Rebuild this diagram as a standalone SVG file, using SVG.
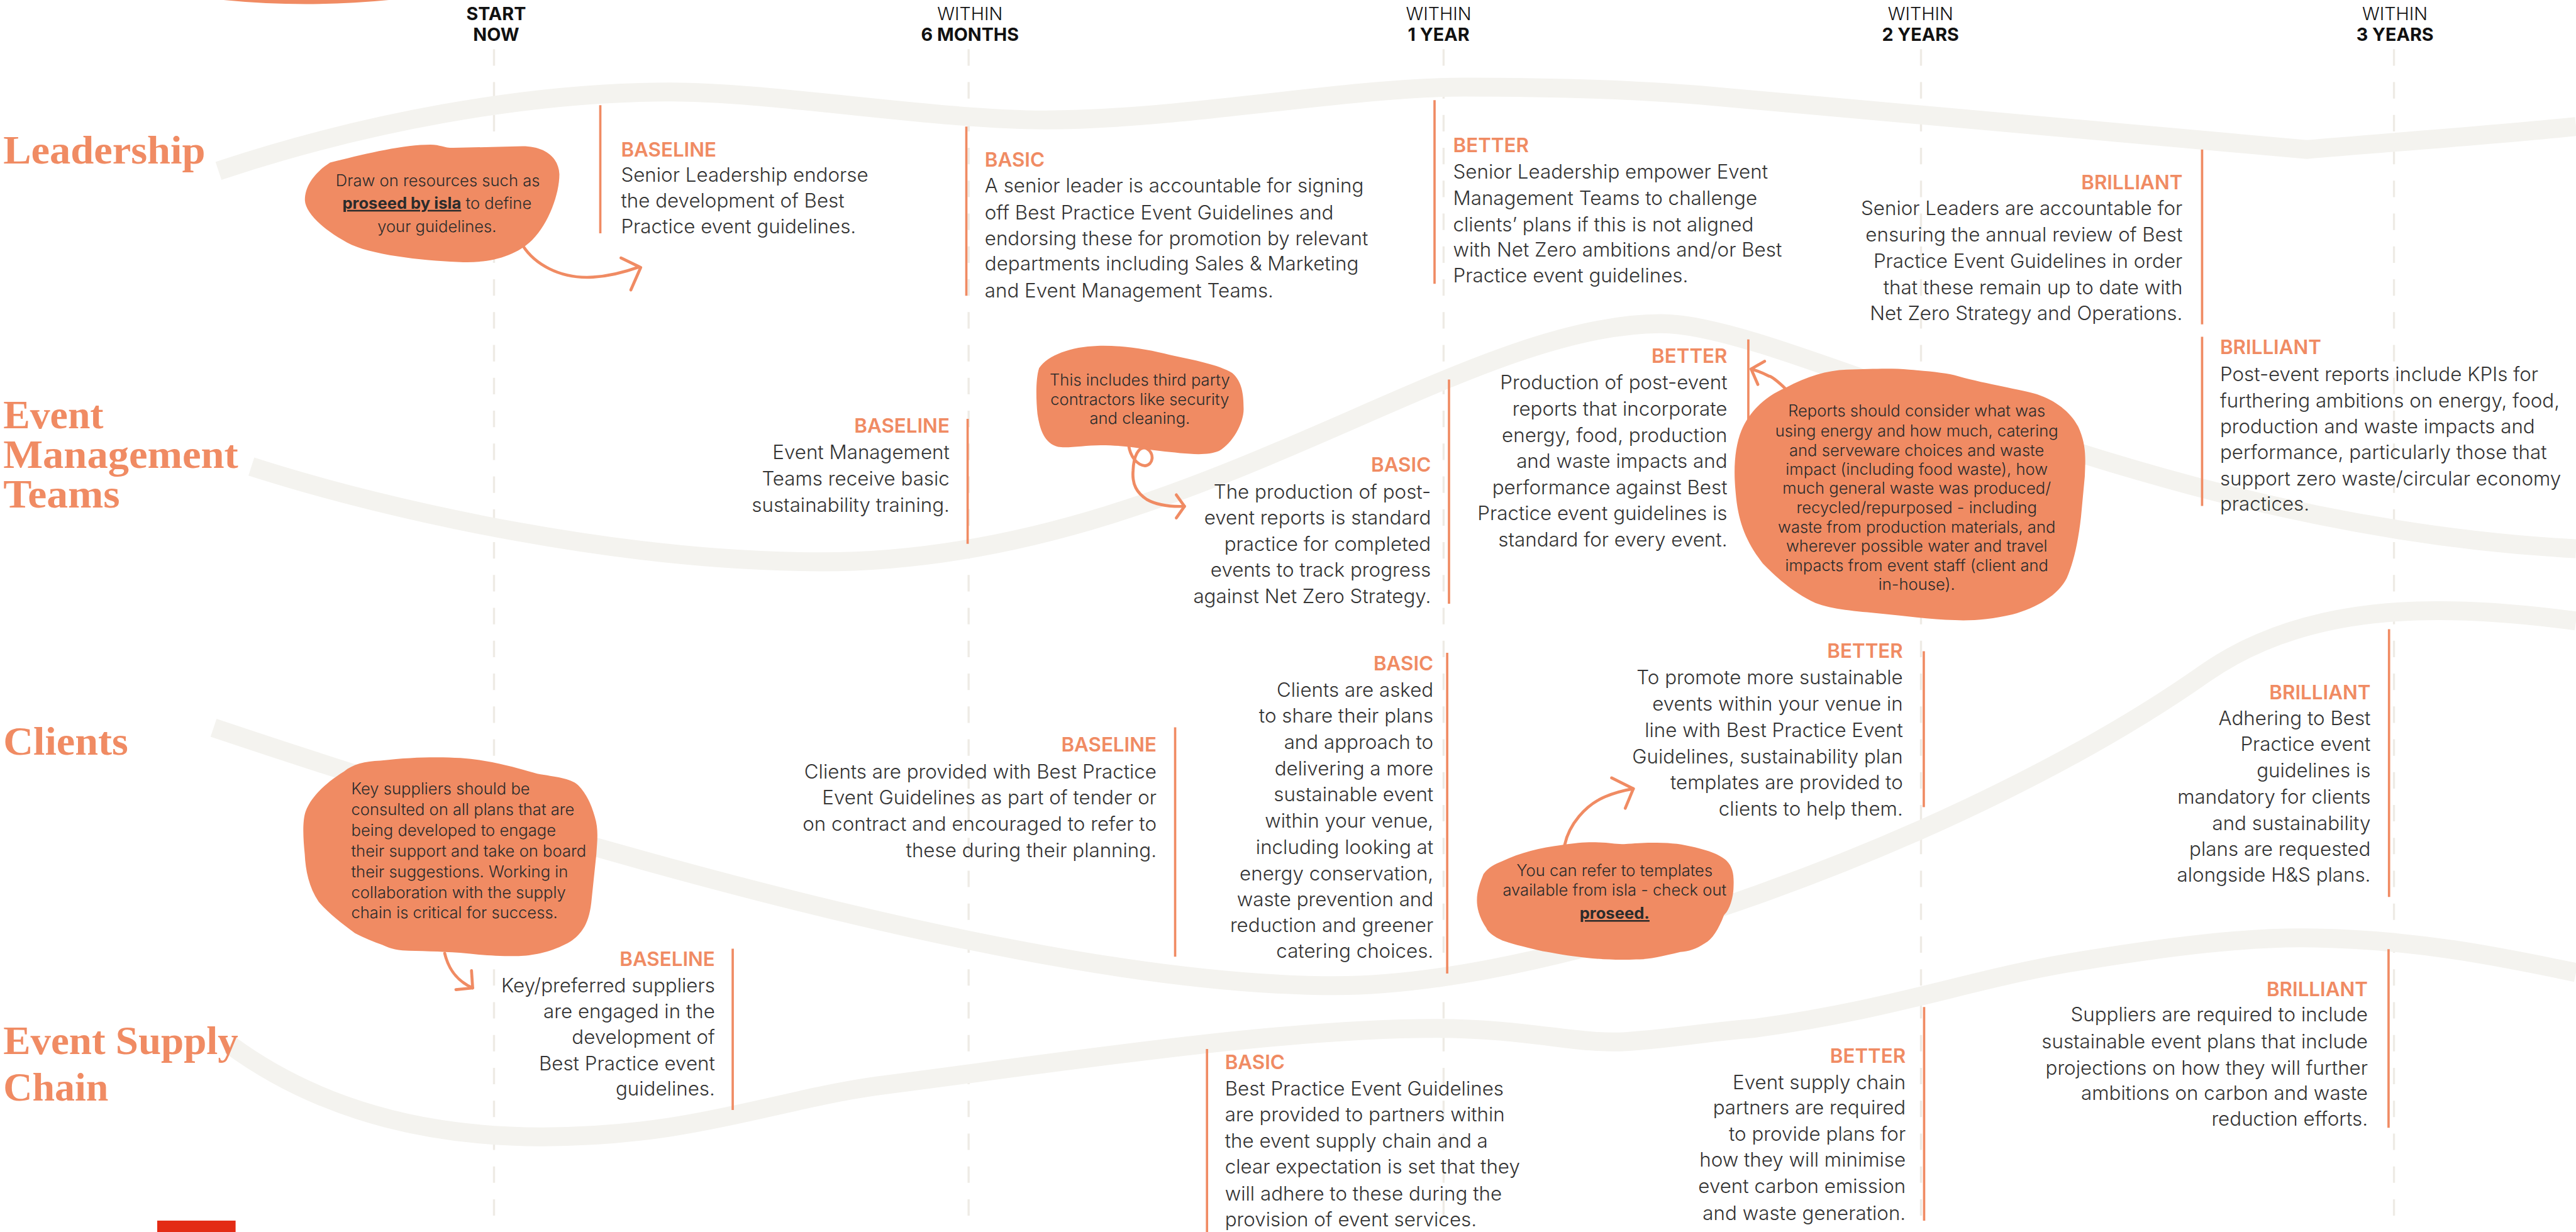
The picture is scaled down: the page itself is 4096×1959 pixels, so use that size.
<svg xmlns="http://www.w3.org/2000/svg" width="4096" height="1959" viewBox="0 0 4096 1959">
<style>
.dash{stroke:#eeebe5;stroke-width:1.3;stroke-dasharray:10 10;fill:none}
.wave{fill:none;stroke:#f4f3ef;stroke-width:11.5;stroke-linecap:butt}
.bar{stroke:#f08b63;stroke-width:1.4}
.row{font-family:"Liberation Serif",serif;font-size:24px;font-weight:700;fill:#f08b63}
.hd{font-family:Inter,"Liberation Sans",sans-serif;font-size:11px;fill:#111;text-anchor:middle}
.hl{font-weight:300}
.hb{font-weight:700}
.lab{font-family:Inter,"Liberation Sans",sans-serif;font-size:12px;font-weight:600;fill:#f08b63}
.txt{font-family:Inter,"Liberation Sans",sans-serif;font-size:12px;font-weight:300;fill:#333}
.blob{fill:#f08b63}
.bt{font-family:Inter,"Liberation Sans",sans-serif;font-size:9.8px;font-weight:300;fill:#2b2b2b}
.bb{font-weight:700;text-decoration:underline}
.arr{fill:none;stroke:#f08b63;stroke-width:1.8;stroke-linecap:round;stroke-linejoin:round}
.end{text-anchor:end}
.mid{text-anchor:middle}
</style>
<rect width="4096" height="1959" fill="#fff"/>
<g transform="scale(2.6122449)">
<g id="timeline-grid">
<line class="dash" x1="300.7" y1="30" x2="300.7" y2="750"/>
<line class="dash" x1="589.6" y1="30" x2="589.6" y2="750"/>
<line class="dash" x1="878.7" y1="30" x2="878.7" y2="750"/>
<line class="dash" x1="1169.3" y1="30" x2="1169.3" y2="750"/>
<line class="dash" x1="1457.2" y1="30" x2="1457.2" y2="750"/>
</g>
<g id="connectors">
<path class="wave" d="M133,104 C220,75 320,56 408,56 C470,56 570,73 636,73 C720,73 820,53 891,53 C950,53 1000,55 1036,58 L1404,91 C1450,87 1520,82 1568,77"/>
<path class="wave" d="M153,284 C240,312 380,342 500,342 C720,342 885,197 1011,197 C1090,197 1300,320 1568,334"/>
<path class="wave" d="M130,443 C300,500 620,600 813,600 C950,600 1200,510 1342,410 C1402,368 1480,366 1568,378"/>
<path class="wave" d="M140,636 C200,680 270,692 330,692 C420,692 470,670 534,661 C650,646 780,626 874,626 C930,626 960,636 990,634 C1020,632 1040,628 1067,626 C1150,615 1200,596 1260,586 C1320,576 1370,570 1409,571 C1470,572 1520,582 1568,592"/>
</g>
<g id="decor">
<path d="M125,-2.5 Q186,5 248,-2.5" fill="none" stroke="#f08b63" stroke-width="2.5"/>
<rect x="95.7" y="743" width="47.7" height="8" fill="#e32b15"/>
</g>
<g id="row-labels">
<text class="row" x="2" y="99.6" textLength="123" lengthAdjust="spacingAndGlyphs">Leadership</text>
<text class="row" x="2" y="260.6" textLength="61" lengthAdjust="spacingAndGlyphs">Event</text>
<text class="row" x="2" y="284.8" textLength="143" lengthAdjust="spacingAndGlyphs">Management</text>
<text class="row" x="2" y="309" textLength="71" lengthAdjust="spacingAndGlyphs">Teams</text>
<text class="row" x="2" y="459.4" textLength="76" lengthAdjust="spacingAndGlyphs">Clients</text>
<text class="row" x="2" y="641.7" textLength="143" lengthAdjust="spacingAndGlyphs">Event Supply</text>
<text class="row" x="2" y="670" textLength="64" lengthAdjust="spacingAndGlyphs">Chain</text>
</g>
<g id="headers">
<text class="hd hb" x="302" y="12.4">START</text>
<text class="hd hb" x="302" y="25">NOW</text>
<text class="hd hl" x="590.4" y="12.4">WITHIN</text>
<text class="hd hb" x="590.4" y="25">6 MONTHS</text>
<text class="hd hl" x="875.7" y="12.4">WITHIN</text>
<text class="hd hb" x="875.7" y="25">1 YEAR</text>
<text class="hd hl" x="1169" y="12.4">WITHIN</text>
<text class="hd hb" x="1169" y="25">2 YEARS</text>
<text class="hd hl" x="1457.8" y="12.4">WITHIN</text>
<text class="hd hb" x="1457.8" y="25">3 YEARS</text>
</g>
<g id="leadership-baseline">
<line class="bar" x1="365.4" y1="64" x2="365.4" y2="142"/>
<text class="lab" x="378" y="95.4">BASELINE</text>
<text class="txt"><tspan x="378" y="110.7">Senior Leadership endorse</tspan><tspan x="378" y="126.4">the development of Best</tspan><tspan x="378" y="142">Practice event guidelines.</tspan></text>
</g>
<g id="leadership-basic">
<line class="bar" x1="588.2" y1="77" x2="588.2" y2="180"/>
<text class="lab" x="599.4" y="101.6">BASIC</text>
<text class="txt"><tspan x="599.4" y="117.2">A senior leader is accountable for signing</tspan><tspan x="599.4" y="133.5">off Best Practice Event Guidelines and</tspan><tspan x="599.4" y="149.2">endorsing these for promotion by relevant</tspan><tspan x="599.4" y="164.8">departments including Sales &amp; Marketing</tspan><tspan x="599.4" y="181.1">and Event Management Teams.</tspan></text>
</g>
<g id="leadership-better">
<line class="bar" x1="873.2" y1="61" x2="873.2" y2="172.7"/>
<text class="lab" x="884.5" y="92.8">BETTER</text>
<text class="txt"><tspan x="884.5" y="108.8">Senior Leadership empower Event</tspan><tspan x="884.5" y="124.8">Management Teams to challenge</tspan><tspan x="884.5" y="140.7">clients’ plans if this is not aligned</tspan><tspan x="884.5" y="156.3">with Net Zero ambitions and/or Best</tspan><tspan x="884.5" y="172">Practice event guidelines.</tspan></text>
</g>
<g id="leadership-brilliant">
<line class="bar" x1="1340.4" y1="91" x2="1340.4" y2="197.4"/>
<text class="lab end" x="1328.5" y="115.3">BRILLIANT</text>
<text class="txt end"><tspan x="1328.5" y="131">Senior Leaders are accountable for</tspan><tspan x="1328.5" y="147">ensuring the annual review of Best</tspan><tspan x="1328.5" y="162.9">Practice Event Guidelines in order</tspan><tspan x="1328.5" y="179.1">that these remain up to date with</tspan><tspan x="1328.5" y="194.7">Net Zero Strategy and Operations.</tspan></text>
</g>
<g id="emt-baseline">
<line class="bar" x1="589" y1="255" x2="589" y2="331"/>
<text class="lab end" x="578" y="263.4">BASELINE</text>
<text class="txt end"><tspan x="578" y="279.4">Event Management</tspan><tspan x="578" y="295.6">Teams receive basic</tspan><tspan x="578" y="311.5">sustainability training.</tspan></text>
</g>
<g id="emt-basic">
<line class="bar" x1="882" y1="231" x2="882" y2="367.5"/>
<text class="lab end" x="871" y="287.2">BASIC</text>
<text class="txt end"><tspan x="871" y="303.7">The production of post-</tspan><tspan x="871" y="319.4">event reports is standard</tspan><tspan x="871" y="335.3">practice for completed</tspan><tspan x="871" y="351">events to track progress</tspan><tspan x="871" y="367.1">against Net Zero Strategy.</tspan></text>
</g>
<g id="emt-better">
<line class="bar" x1="1064.2" y1="206.6" x2="1064.2" y2="300"/>
<text class="lab end" x="1051.4" y="220.9">BETTER</text>
<text class="txt end"><tspan x="1051.4" y="237">Production of post-event</tspan><tspan x="1051.4" y="253">reports that incorporate</tspan><tspan x="1051.4" y="269.3">energy, food, production</tspan><tspan x="1051.4" y="285">and waste impacts and</tspan><tspan x="1051.4" y="301">performance against Best</tspan><tspan x="1051.4" y="316.6">Practice event guidelines is</tspan><tspan x="1051.4" y="332.5">standard for every event.</tspan></text>
</g>
<g id="emt-brilliant">
<line class="bar" x1="1340.4" y1="205" x2="1340.4" y2="308"/>
<text class="lab" x="1351.3" y="215.7">BRILLIANT</text>
<text class="txt"><tspan x="1351.3" y="231.8">Post-event reports include KPIs for</tspan><tspan x="1351.3" y="248">furthering ambitions on energy, food,</tspan><tspan x="1351.3" y="263.7">production and waste impacts and</tspan><tspan x="1351.3" y="279.4">performance, particularly those that</tspan><tspan x="1351.3" y="295.6">support zero waste/circular economy</tspan><tspan x="1351.3" y="311">practices.</tspan></text>
</g>
<g id="clients-baseline">
<line class="bar" x1="715.3" y1="442.7" x2="715.3" y2="582.4"/>
<text class="lab end" x="704" y="457.6">BASELINE</text>
<text class="txt end"><tspan x="704" y="473.8">Clients are provided with Best Practice</tspan><tspan x="704" y="489.8">Event Guidelines as part of tender or</tspan><tspan x="704" y="505.7">on contract and encouraged to refer to</tspan><tspan x="704" y="521.7">these during their planning.</tspan></text>
</g>
<g id="clients-basic">
<line class="bar" x1="880.9" y1="397.4" x2="880.9" y2="592.6"/>
<text class="lab end" x="872.5" y="407.9">BASIC</text>
<text class="txt end"><tspan x="872.5" y="424">Clients are asked</tspan><tspan x="872.5" y="439.9">to share their plans</tspan><tspan x="872.5" y="456">and approach to</tspan><tspan x="872.5" y="472.1">delivering a more</tspan><tspan x="872.5" y="487.8">sustainable event</tspan><tspan x="872.5" y="503.9">within your venue,</tspan><tspan x="872.5" y="519.8">including looking at</tspan><tspan x="872.5" y="535.8">energy conservation,</tspan><tspan x="872.5" y="551.6">waste prevention and</tspan><tspan x="872.5" y="567.5">reduction and greener</tspan><tspan x="872.5" y="583.2">catering choices.</tspan></text>
</g>
<g id="clients-better">
<line class="bar" x1="1171" y1="396.4" x2="1171" y2="491.3"/>
<text class="lab end" x="1158.3" y="400.6">BETTER</text>
<text class="txt end"><tspan x="1158.3" y="416.6">To promote more sustainable</tspan><tspan x="1158.3" y="432.6">events within your venue in</tspan><tspan x="1158.3" y="448.5">line with Best Practice Event</tspan><tspan x="1158.3" y="464.7">Guidelines, sustainability plan</tspan><tspan x="1158.3" y="480.5">templates are provided to</tspan><tspan x="1158.3" y="496.5">clients to help them.</tspan></text>
</g>
<g id="clients-brilliant">
<line class="bar" x1="1454.2" y1="383" x2="1454.2" y2="546"/>
<text class="lab end" x="1443" y="425.7">BRILLIANT</text>
<text class="txt end"><tspan x="1443" y="441.3">Adhering to Best</tspan><tspan x="1443" y="457.2">Practice event</tspan><tspan x="1443" y="473.3">guidelines is</tspan><tspan x="1443" y="489.2">mandatory for clients</tspan><tspan x="1443" y="505.3">and sustainability</tspan><tspan x="1443" y="521.1">plans are requested</tspan><tspan x="1443" y="536.8">alongside H&amp;S plans.</tspan></text>
</g>
<g id="supply-baseline">
<line class="bar" x1="446" y1="577.5" x2="446" y2="675.7"/>
<text class="lab end" x="435.2" y="588">BASELINE</text>
<text class="txt end"><tspan x="435.2" y="604">Key/preferred suppliers</tspan><tspan x="435.2" y="619.6">are engaged in the</tspan><tspan x="435.2" y="635.3">development of</tspan><tspan x="435.2" y="651.4">Best Practice event</tspan><tspan x="435.2" y="667">guidelines.</tspan></text>
</g>
<g id="supply-basic">
<line class="bar" x1="734.7" y1="638.5" x2="734.7" y2="752"/>
<text class="lab" x="745.6" y="650.9">BASIC</text>
<text class="txt"><tspan x="745.6" y="667">Best Practice Event Guidelines</tspan><tspan x="745.6" y="682.7">are provided to partners within</tspan><tspan x="745.6" y="698.8">the event supply chain and a</tspan><tspan x="745.6" y="714.4">clear expectation is set that they</tspan><tspan x="745.6" y="730.6">will adhere to these during the</tspan><tspan x="745.6" y="746.3">provision of event services.</tspan></text>
</g>
<g id="supply-better">
<line class="bar" x1="1171.2" y1="613" x2="1171.2" y2="743"/>
<text class="lab end" x="1160" y="646.8">BETTER</text>
<text class="txt end"><tspan x="1160" y="663">Event supply chain</tspan><tspan x="1160" y="678.4">partners are required</tspan><tspan x="1160" y="694.5">to provide plans for</tspan><tspan x="1160" y="710.1">how they will minimise</tspan><tspan x="1160" y="726.3">event carbon emission</tspan><tspan x="1160" y="742.5">and waste generation.</tspan></text>
</g>
<g id="supply-brilliant">
<line class="bar" x1="1453.9" y1="577.8" x2="1453.9" y2="686.5"/>
<text class="lab end" x="1441.3" y="606.2">BRILLIANT</text>
<text class="txt end"><tspan x="1441.3" y="621.8">Suppliers are required to include</tspan><tspan x="1441.3" y="638">sustainable event plans that include</tspan><tspan x="1441.3" y="654.1">projections on how they will further</tspan><tspan x="1441.3" y="669.7">ambitions on carbon and waste</tspan><tspan x="1441.3" y="685.4">reduction efforts.</tspan></text>
</g>
<g id="note-resources">
<path class="blob" d="M200.9,99 C220,94 245,88 262,88 C268,88 270,90 276,90 L318,89 C332,89 340,96 340.5,106 C340.5,118 334,136 324,146 C314,156 298,160 282,159.6 C262,159 230,156 214,149 C198,141 186,130 185.6,122 C185.5,112 193,104 200.9,99 Z"/>
<text class="bt mid"><tspan x="266.5" y="113.3">Draw on resources such as</tspan><tspan x="266" y="127"><tspan class="bb">proseed by isla</tspan> to define</tspan><tspan x="266" y="141.4">your guidelines.</tspan></text>
</g>
<g id="note-contractors">
<path class="blob" d="M632.5,224 C638,216 652,211 668,210.5 C684,210 700,213 712,216 C726,219 742,222 750,227 C756,232 757,240 757,249 C757,258 750,270 742,274.5 C734,278 720,276 706,274.5 C694,273 684,271 670,271 C660,271 650,273 644,272 C636,270 633,262 631.5,252 C630.5,242 630.5,230 632.5,224 Z"/>
<text class="bt mid"><tspan x="693.8" y="234.7">This includes third party</tspan><tspan x="693.8" y="246.6">contractors like security</tspan><tspan x="693.8" y="258.2">and cleaning.</tspan></text>
</g>
<g id="note-reports">
<path class="blob" d="M1087,236 C1100,229 1112,225.5 1124,225 C1140,224.5 1152,224 1162,225 C1175,226 1185,227 1192,229 C1210,234 1230,237 1240,240 C1252,244 1262,252 1266,262 C1270,272 1269.4,280 1269,290 L1266.7,314.6 C1265,330 1262,343 1258,352 C1253,362 1240,370 1225,374 C1212,377 1200,378 1190,377.5 C1175,377 1160,375 1145,373.5 C1130,372 1115,371 1105,367 C1090,360 1080,350 1073,343 C1063,330 1058,318 1056.5,300 C1055,285 1056,272 1060,262 C1065,250 1075,241 1087,236 Z"/>
<text class="bt mid"><tspan x="1166.7" y="253.6">Reports should consider what was</tspan><tspan x="1166.7" y="265.5">using energy and how much, catering</tspan><tspan x="1166.7" y="277.4">and serveware choices and waste</tspan><tspan x="1166.7" y="289">impact (including food waste), how</tspan><tspan x="1166.7" y="300.5">much general waste was produced/</tspan><tspan x="1166.7" y="312.5">recycled/repurposed  - including</tspan><tspan x="1166.7" y="324.1">waste from production materials, and</tspan><tspan x="1166.7" y="335.6">wherever possible water and travel</tspan><tspan x="1166.7" y="347.5">impacts from event staff (client and</tspan><tspan x="1166.7" y="359.1">in-house).</tspan></text>
</g>
<g id="note-suppliers">
<path class="blob" d="M209.4,469.6 C215,465 222,463.5 231.5,463 C245,461.5 255,461 265.6,461 C280,461 290,462 299.6,464 C312,466.5 320,469 327,471 C338,473 347,473.5 352,478 C357,483 360,490 362,497 C364.5,505 363.5,512 363,520 L360.2,546.7 C359.5,555 358,560 355.8,564 C351,572 346,574 340.5,576.5 C330,581 320,582 313,582 C300,582 290,581 280,580 C268,579 255,579 245,578.5 C238,578 235,576 231.5,574.7 C224,572 220,570 216,568 C208,562 200,556 194,549 C188,540 186,530 185.5,520 C184.5,510 184,500 186,494 C189,486 196,478 209.4,469.6 Z"/>
<text class="bt"><tspan x="213.8" y="483.6">Key suppliers should be</tspan><tspan x="213.8" y="496.2">consulted on all plans that are</tspan><tspan x="213.8" y="508.8">being developed to engage</tspan><tspan x="213.8" y="521.5">their support and take on board</tspan><tspan x="213.8" y="534.1">their suggestions. Working in</tspan><tspan x="213.8" y="546.7">collaboration with the supply</tspan><tspan x="213.8" y="559">chain is critical for success.</tspan></text>
</g>
<g id="note-templates">
<path class="blob" d="M914.3,524.3 C925,519 938,516 950.4,514.4 C960,513 966,512.5 973.3,512.8 C980,513 984,514 988.5,513.8 C995,513.5 1000,513 1005,513 C1015,513 1022,513.5 1028,515 C1038,517 1047,520 1051,524 C1055,528 1055.5,533 1055.2,540 C1055,548 1052,555 1049.4,557 C1046,566 1042,572 1038,574 C1032,578 1028,579 1022.8,579.5 C1012,582 1005,584 996,584 C985,584.5 975,584 965.7,583 C955,582 945,580 939,579 C930,577 922,575 916,573 C908,570 905,566 904.8,565 C900,558 899,552 899,548 C899,542 901,537 903,532 C906,528 910,526 914.3,524.3 Z"/>
<text class="bt mid"><tspan x="982.8" y="533.4">You can refer to templates</tspan><tspan x="982.8" y="545.3">available from isla - check out</tspan><tspan x="982.8" y="559.3" class="bb">proseed.</tspan></text>
</g>
<g id="arrows">
<path class="arr" d="M318.4,149.8 C325,160 340,170 361,168.7 C372,168 382,165 389,162.5"/>
<path class="arr" d="M378,157 L390,162.8 L384,176.5"/>
<path class="arr" d="M687,271 C688,278 692,283 697,283.5 C702,283 703,276 698,273 C693,271 690,278 689.7,286.5 C689,295 692,300 698,304 C705,308 713,308.5 721,308.2"/>
<path class="arr" d="M716,301.2 L721,308.2 L716,315.3"/>
<path class="arr" d="M1087,236.8 C1082,232 1078,229 1076.8,229 C1073,227 1069,225.5 1066,224.6"/>
<path class="arr" d="M1074.1,219.9 L1065.9,224.6 L1070,234"/>
<path class="arr" d="M270.7,580.3 C273,590 278,597 287.7,601.4"/>
<path class="arr" d="M287,590.8 L287.7,601.4 L277.5,602.4"/>
<path class="arr" d="M952.4,514.4 C955,502 965,490 977,485 C984,482 989,481 994.2,480.1"/>
<path class="arr" d="M981,473.5 L994.2,480.1 L989.3,492"/>
</g>
</g>
</svg>
